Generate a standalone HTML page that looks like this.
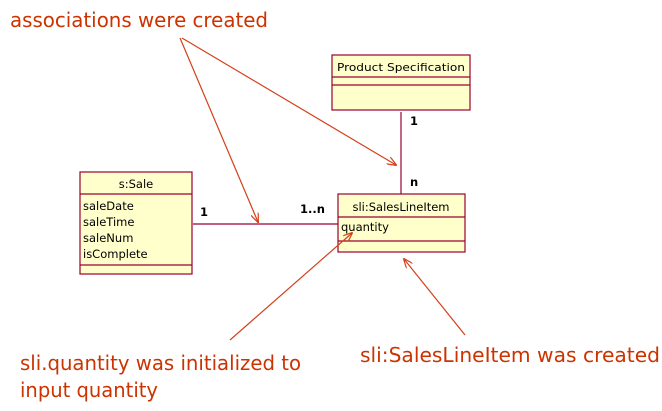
<!DOCTYPE html>
<html><head><meta charset="utf-8"><style>
body{margin:0;background:#fff;width:662px;height:406px;overflow:hidden}
svg text{font-family:"DejaVu Sans","Liberation Sans",sans-serif}
</style></head><body>
<svg width="662" height="406" xmlns="http://www.w3.org/2000/svg">
<defs><marker id="a" markerWidth="10" markerHeight="8" refX="9" refY="4" orient="auto" markerUnits="userSpaceOnUse"><path d="M0,0 L10,4 L0,8" fill="none" stroke="#d4401a" stroke-width="1.2"/></marker></defs>
<g stroke="#990033" stroke-width="1.2" fill="#ffffcc">
<rect x="332" y="55" width="138" height="55"/>
<line x1="332" y1="77" x2="470" y2="77"/><line x1="332" y1="85" x2="470" y2="85"/>
<rect x="80" y="172" width="112" height="102"/>
<line x1="80" y1="194" x2="192" y2="194"/><line x1="80" y1="265" x2="192" y2="265"/>
<rect x="338" y="194" width="127" height="58"/>
<line x1="338" y1="217" x2="465" y2="217"/><line x1="338" y1="241" x2="465" y2="241"/>
<line x1="401" y1="112" x2="401" y2="194"/>
<line x1="193" y1="224" x2="338" y2="224"/>
</g>
<g font-size="11.5" fill="#000">
<text x="337" y="71" font-size="11" textLength="128" lengthAdjust="spacingAndGlyphs">Product Specification</text>
<text x="136" y="188" text-anchor="middle">s:Sale</text>
<text x="83" y="210">saleDate</text><text x="83" y="226">saleTime</text>
<text x="83" y="242">saleNum</text><text x="83" y="258">isComplete</text>
<text x="401" y="211" text-anchor="middle">sli:SalesLineItem</text>
<text x="341" y="231">quantity</text>
<text x="410" y="125" font-weight="bold">1</text>
<text x="410" y="186" font-weight="bold">n</text>
<text x="200" y="216" font-weight="bold">1</text>
<text x="300" y="213" font-weight="bold">1..n</text>
</g>
<g stroke="#d4401a" stroke-width="1.2" fill="none" marker-end="url(#a)">
<line x1="180" y1="38" x2="258" y2="222"/>
<line x1="182" y1="38" x2="396" y2="165"/>
<line x1="230" y1="340" x2="352" y2="233"/>
<line x1="465" y1="335" x2="404" y2="259"/>
</g>
<g fill="#cc3300" font-size="20" style="font-family:'Liberation Sans',sans-serif">
<text x="10" y="27" textLength="258" lengthAdjust="spacingAndGlyphs">associations were created</text>
<text x="20" y="370" textLength="281" lengthAdjust="spacingAndGlyphs">sli.quantity was initialized to</text>
<text x="20" y="397" textLength="138" lengthAdjust="spacingAndGlyphs">input quantity</text>
<text x="360" y="362" textLength="300" lengthAdjust="spacingAndGlyphs">sli:SalesLineItem was created</text>
</g>
</svg>
</body></html>
